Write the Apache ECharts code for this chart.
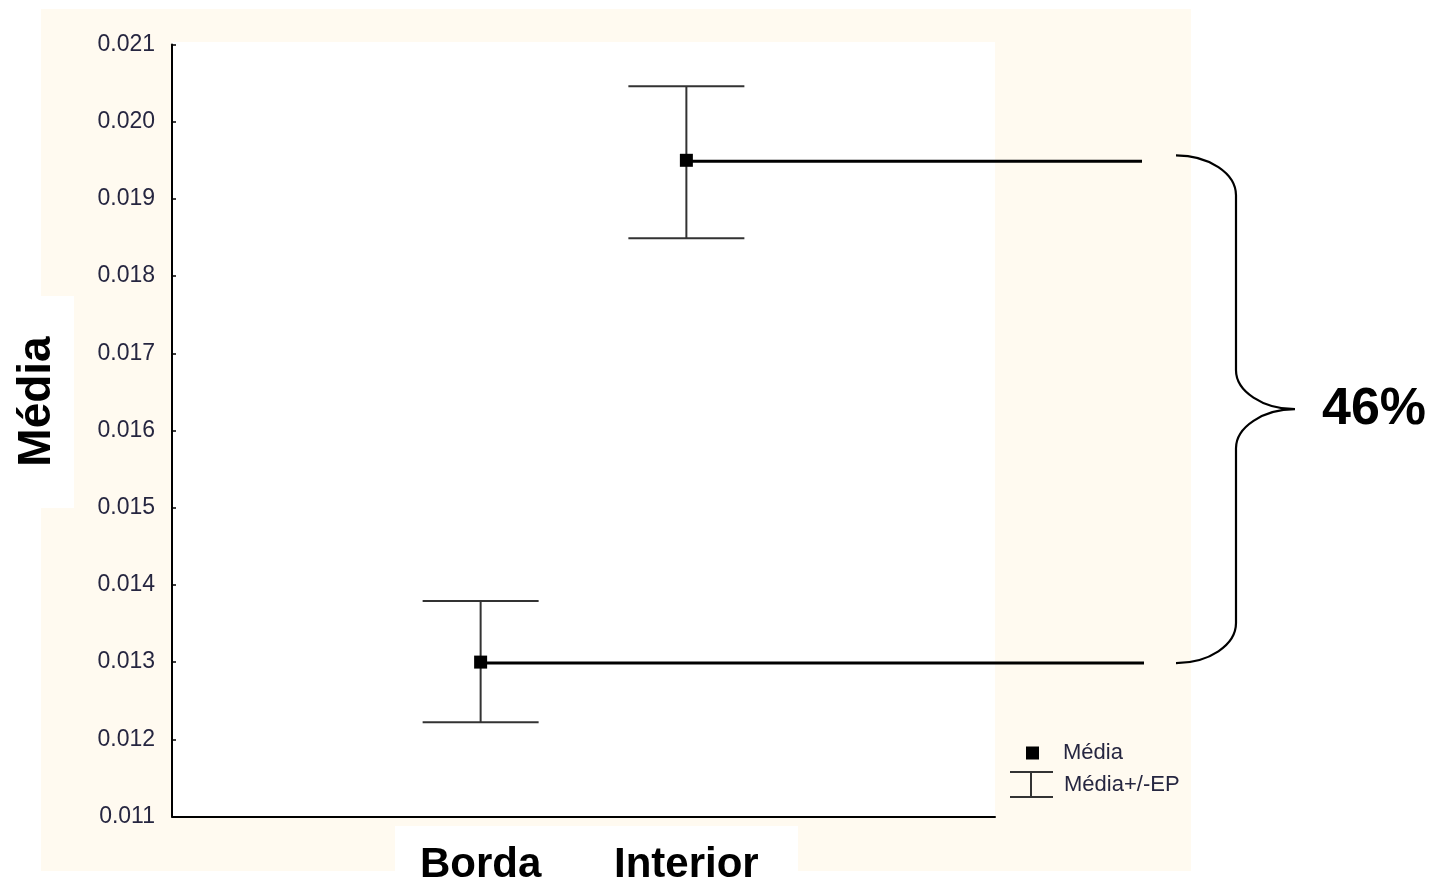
<!DOCTYPE html>
<html>
<head>
<meta charset="utf-8">
<script src="https://cdn.jsdelivr.net/npm/echarts@6/dist/echarts.min.js"></script>
<style>
  html, body { margin: 0; padding: 0; background: #ffffff; }
  #chart { width: 1442px; height: 883px; }
</style>
</head>
<body>
<div id="chart"></div>
<script>
// ---- data ----
const categories = ['', 'Borda', 'Interior', ''];
const groups = ['Borda', 'Interior'];
const means = [0.01300, 0.01950];
const upper = [0.01379, 0.02046];
const lower = [0.01222, 0.01849];
const yTicks = { min: 0.011, max: 0.021, step: 0.001 };
const diffLabel = '46%';
const yTitle = 'Média';
const legendMean = 'Média';
const legendErr = 'Média+/-EP';

const FONT = 'Arial, "Liberation Sans", sans-serif';
const TXT = '#262640';

const chart = echarts.init(document.getElementById('chart'), null, { renderer: 'canvas' });

const errData = groups.map((g, i) => [categories.indexOf(g), lower[i], upper[i]]);
const meanData = groups.map((g, i) => [categories.indexOf(g), means[i]]);
const annotData = [[categories.indexOf(groups[0]), means[0], categories.indexOf(groups[1]), means[1]]];

function renderErr(params, api) {
  const x = api.value(0);
  const lo = api.coord([x, api.value(1)]);
  const hi = api.coord([x, api.value(2)]);
  const hw = 58;
  const style = { stroke: '#333333', lineWidth: 2 };
  return {
    type: 'group',
    children: [
      { type: 'line', shape: { x1: lo[0], y1: lo[1], x2: hi[0], y2: hi[1] }, style: style },
      { type: 'line', shape: { x1: lo[0] - hw, y1: lo[1], x2: lo[0] + hw, y2: lo[1] }, style: style },
      { type: 'line', shape: { x1: hi[0] - hw, y1: hi[1], x2: hi[0] + hw, y2: hi[1] }, style: style }
    ]
  };
}

function renderAnnot(params, api) {
  const pB = api.coord([api.value(0), api.value(1)]);
  const pI = api.coord([api.value(2), api.value(3)]);
  const lineStyle = { stroke: '#000', lineWidth: 3 };
  const yTop = pI[1] - 5;
  const yBot = pB[1] + 1;
  const mid = (yTop + yBot) / 2;
  const xs = 1176, xv = 1236, xt = 1295;
  const ry = 40, rt = 39;
  const path =
    'M' + xs + ',' + yTop +
    ' C' + (xs + 33) + ',' + yTop + ' ' + xv + ',' + (yTop + 18) + ' ' + xv + ',' + (yTop + ry) +
    ' L' + xv + ',' + (mid - rt) +
    ' C' + xv + ',' + (mid - rt + 21) + ' ' + (xt - 32) + ',' + mid + ' ' + xt + ',' + mid +
    ' C' + (xt - 32) + ',' + mid + ' ' + xv + ',' + (mid + rt - 21) + ' ' + xv + ',' + (mid + rt) +
    ' L' + xv + ',' + (yBot - ry) +
    ' C' + xv + ',' + (yBot - 18) + ' ' + (xs + 33) + ',' + yBot + ' ' + xs + ',' + yBot;
  return {
    type: 'group',
    children: [
      { type: 'line', shape: { x1: pB[0], y1: pB[1] + 1, x2: 1144, y2: pB[1] + 1 }, style: lineStyle },
      { type: 'line', shape: { x1: pI[0], y1: pI[1] + 1, x2: 1142, y2: pI[1] + 1 }, style: lineStyle },
      { type: 'path', shape: { pathData: path }, style: { stroke: '#000', lineWidth: 2.2, fill: null } },
      { type: 'text', x: 1322, y: mid, style: { text: diffLabel, fontSize: 52, fontWeight: 'bold', fontFamily: FONT, fill: '#000', align: 'left', verticalAlign: 'middle' } }
    ]
  };
}

const option = {
  animation: false,
  backgroundColor: '#ffffff',
  graphic: [
    { type: 'rect', z: -10, shape: { x: 41, y: 9, width: 1150, height: 862 }, style: { fill: '#FFFAF0' } },
    { type: 'rect', z: -9, shape: { x: 395, y: 826, width: 403, height: 57 }, style: { fill: '#ffffff' } },
    { type: 'rect', z: -9, shape: { x: 41, y: 296, width: 33, height: 212 }, style: { fill: '#ffffff' } },
    { type: 'rect', z: -9, shape: { x: 172, y: 42, width: 823, height: 774 }, style: { fill: '#ffffff' } }
  ],
  grid: { left: 172, top: 44.5, right: 447, bottom: 66.5, containLabel: false, outerBoundsMode: 'none' },
  legend: [
    {
      data: [{ name: legendMean, icon: 'rect', itemStyle: { color: '#000' } }],
      left: 1026, top: 742, padding: 0, orient: 'vertical',
      itemWidth: 13, itemHeight: 13, selectedMode: false,
      textStyle: { fontSize: 22, color: TXT, fontFamily: FONT, padding: [0, 0, 0, 19] }
    },
    {
      data: [{ name: legendErr, icon: 'path://M0,0H43V2H0Z M20,2H22V25H20Z M0,25H43V27H0Z', itemStyle: { color: '#333333' } }],
      left: 1010, top: 771, padding: 0, orient: 'vertical',
      itemWidth: 43, itemHeight: 27, selectedMode: false,
      textStyle: { fontSize: 22, color: TXT, fontFamily: FONT, padding: [0, 0, 0, 6] }
    }
  ],
  xAxis: {
    type: 'category',
    data: categories,
    boundaryGap: true,
    axisLine: { lineStyle: { color: '#000', width: 2 } },
    axisTick: { alignWithLabel: true, inside: true, length: 5, lineStyle: { color: '#000', width: 1.5 } },
    axisLabel: { interval: 0, margin: 28, fontSize: 42, fontWeight: 'bold', color: '#000', fontFamily: FONT },
    splitLine: { show: false }
  },
  yAxis: {
    type: 'value',
    min: yTicks.min, max: yTicks.max, interval: yTicks.step,
    name: yTitle,
    nameLocation: 'middle',
    nameRotate: 90,
    nameGap: 112,
    nameTextStyle: { fontSize: 46, fontWeight: 'bold', color: '#000', fontFamily: FONT, padding: [0, 0, 0, 58] },
    axisLine: { show: true, lineStyle: { color: '#000', width: 2 } },
    axisTick: { show: true, inside: true, length: 4, lineStyle: { color: '#000', width: 1.5 } },
    axisLabel: { margin: 17, fontSize: 23, color: TXT, fontFamily: FONT, formatter: v => v.toFixed(3) },
    splitLine: { show: false }
  },
  series: [
    {
      name: legendErr,
      type: 'custom',
      renderItem: renderErr,
      data: errData,
      encode: { x: 0, y: [1, 2] },
      itemStyle: { color: '#333333' },
      clip: false,
      z: 3
    },
    {
      name: 'annotation',
      type: 'custom',
      renderItem: renderAnnot,
      data: annotData,
      encode: { x: [0, 2], y: [1, 3] },
      clip: false,
      silent: true,
      z: 4
    },
    {
      name: legendMean,
      type: 'scatter',
      data: meanData,
      symbol: 'rect',
      symbolSize: 13,
      itemStyle: { color: '#000', opacity: 1 },
      z: 5
    }
  ]
};
chart.setOption(option);
</script>
</body>
</html>
